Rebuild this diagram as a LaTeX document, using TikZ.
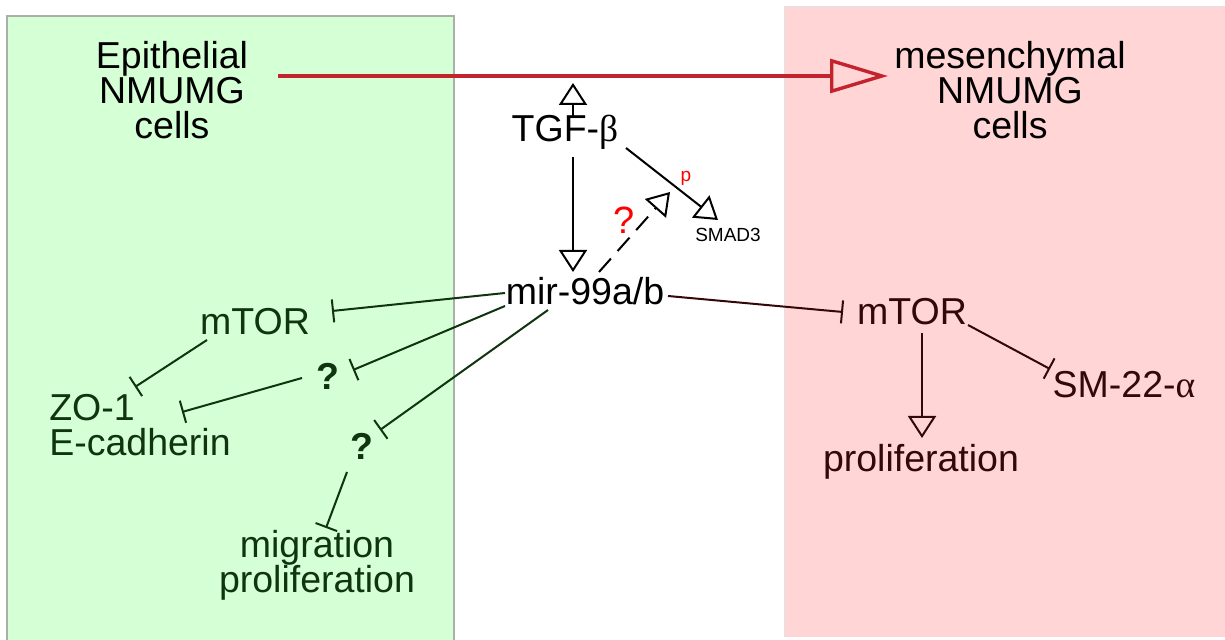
\documentclass[tikz,border=0pt]{standalone}
\usepackage{fontspec}
\setmainfont{Liberation Sans}
\newfontfamily\greekf{Liberation Serif}
\usetikzlibrary{arrows.meta,calc}
\definecolor{gbg}{RGB}{213,255,213}
\definecolor{pbg}{RGB}{255,213,213}
\definecolor{gborder}{RGB}{170,175,170}
\definecolor{pborder}{RGB}{240,220,220}
\definecolor{gtx}{RGB}{15,52,15}
\definecolor{rtx}{RGB}{50,8,8}
\definecolor{emtred}{RGB}{195,35,45}
\begin{document}
\begin{tikzpicture}[x=0.5pt,y=-0.5pt,
 lbl/.style={inner sep=0pt, font=\fontsize{18.75pt}{17.5pt}\selectfont, align=center},
 conn/.style={line width=1pt},
 inh/.style={conn,-{Bar[width=11.5pt,line width=1pt]}},
 act/.style={conn,-{Triangle[open,length=11pt,width=14pt,line width=1pt]}},
]
\useasboundingbox (0,0) rectangle (1225,640);
% panels
\fill[gbg] (7,16) rectangle (454,645);
\draw[gborder,line width=1pt] (7,645) -- (7,16) -- (454,16) -- (454,645);
\fill[pbg] (785,7) rectangle (1230,637);
\draw[pborder,line width=0.6pt] (785,637) -- (785,7) -- (1230,7);

% headers
\node[lbl] (epi) at (172,90) {Epithelial\\NMUMG\\cells};
\node[lbl] (mes) at (1010,90) {mesenchymal\\NMUMG\\cells};
\draw[emtred,line width=1.7pt,-{Triangle[open,length=29pt,width=17pt,line width=1.7pt]}]
  ($(epi)+(106,-14)$) -- ($(mes)+(-122,-14)$);
\coordinate (emt) at (573,83);

% center
\node[lbl] (tgf) at (565,132) {TGF-{\greekf β}};
\node[lbl] (mir) at (585,291) {mir-99a/b};
\node[inner sep=0pt,font=\fontsize{9.5pt}{11pt}\selectfont] (smad) at (728,235) {SMAD3};
\node[inner sep=0pt,text=red,font=\fontsize{9.5pt}{11pt}\selectfont] (p) at (686,178) {p};
\node[inner sep=0pt,text=red,font=\fontsize{19pt}{21pt}\selectfont] (qr) at (624,220) {?};
\coordinate (phos) at (670,192);

\draw[act] ($(tgf)+(8,-16)$) -- (emt);
\draw[act] ($(tgf)+(8,25)$) -- ($(mir)+(-12,-19)$);
\draw[act] ($(tgf)+(61,16)$) -- ($(smad)+(-10,-15)$);
\draw[act,dash pattern=on 9pt off 5pt] ($(mir)+(14,-19)$) -- (phos);

% left (epithelial)
\node[lbl,text=gtx] (mtorL) at (255,322) {mTOR};
\node[lbl,text=gtx,font=\fontsize{18.75pt}{17.5pt}\selectfont\bfseries] (q1) at (328,376) {?};
\node[lbl,text=gtx,font=\fontsize{18.75pt}{17.5pt}\selectfont\bfseries] (q2) at (362,446) {?};
\node[lbl,text=gtx,align=left] (zoe) at (140,425) {ZO-1\\E-cadherin};
\node[lbl,text=gtx] (mig) at (317,565) {migration\\proliferation};
\draw[inh,gtx] ($(mtorL)+(-48,18)$) -- ($(zoe)+(-5,-38)$);
\draw[inh,gtx] ($(q1)+(-26,2)$) -- ($(zoe)+(42,-13)$);
\draw[inh,gtx] ($(q2)+(-15,26)$) -- ($(mig)+(9,-37)$);
\draw[inh,gtx] ($(mir)+(-80,2)$) -- ($(mtorL)+(77,-11)$);
\draw[inh,gtx] ($(mir)+(-80,15)$) -- ($(q1)+(25,-6)$);
\draw[inh,gtx] ($(mir)+(-37,19)$) -- ($(q2)+(18,-16)$);

% right (mesenchymal)
\node[lbl,text=rtx] (mtorR) at (912,312) {mTOR};
\node[lbl,text=rtx] (prolR) at (921,462) {proliferation};
\node[lbl,text=rtx] (sm) at (1124,385) {SM-22-{\greekf α}};
\draw[inh,rtx] ($(mir)+(83,5)$) -- ($(mtorR)+(-69,0)$);
\draw[act,rtx] ($(mtorR)+(10,21)$) -- ($(prolR)+(1,-24)$);
\draw[inh,rtx] ($(mtorR)+(56,13)$) -- ($(sm)+(-74,-16)$);
\end{tikzpicture}
\end{document}
